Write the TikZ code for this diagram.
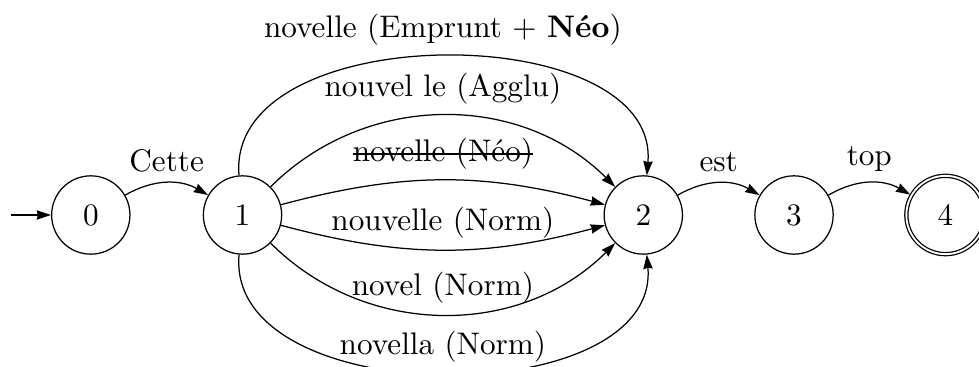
\documentclass[tikz,border=0pt]{standalone}
\usetikzlibrary{automata,arrows.meta}
\newcommand\strikeit[1]{\setbox0\hbox{#1}\rlap{\raisebox{0.5ex}{\rule{\wd0}{0.4pt}}}\box0}
\begin{document}
\begin{tikzpicture}[x=0.3205pt,y=0.3205pt,
  >={Stealth[length=4.6pt,width=3pt,inset=0.4pt]},
  every state/.style={draw,circle,minimum size=25.1pt,inner sep=0pt},
  trans/.style={->},
  initial text={}]
\useasboundingbox (0,0) rectangle (979,367);
\node[state,initial] (q0) at (90.8,152) {0};
\node[state] (q1) at (242.5,152) {1};
\node[state] (q2) at (643.3,152) {2};
\node[state] (q3) at (794,152) {3};
\node[state,accepting] (q4) at (945.5,152) {4};
\draw[trans] (q0) edge[bend left=30] node[above] {Cette} (q1);
\draw[trans] (q1) edge[bend left=95] node[above] {novelle (Emprunt $+$ \textbf{Néo})} (q2);
\draw[trans] (q1) edge[bend left=45] node[above] {nouvel le (Agglu)} (q2);
\draw[trans] (q1) edge[bend left=15] node[above] {\strikeit{novelle (Néo)}} (q2);
\draw[trans] (q1) edge[bend right=15] node[above] {nouvelle (Norm)} (q2);
\draw[trans] (q1) edge[bend right=45] node[above] {novel (Norm)} (q2);
\draw[trans] (q1) edge[bend right=95] node[above] {novella (Norm)} (q2);
\draw[trans] (q2) edge[bend left=30] node[above] {est} (q3);
\draw[trans] (q3) edge[bend left=30] node[above] {top} (q4);
\end{tikzpicture}
\end{document}
